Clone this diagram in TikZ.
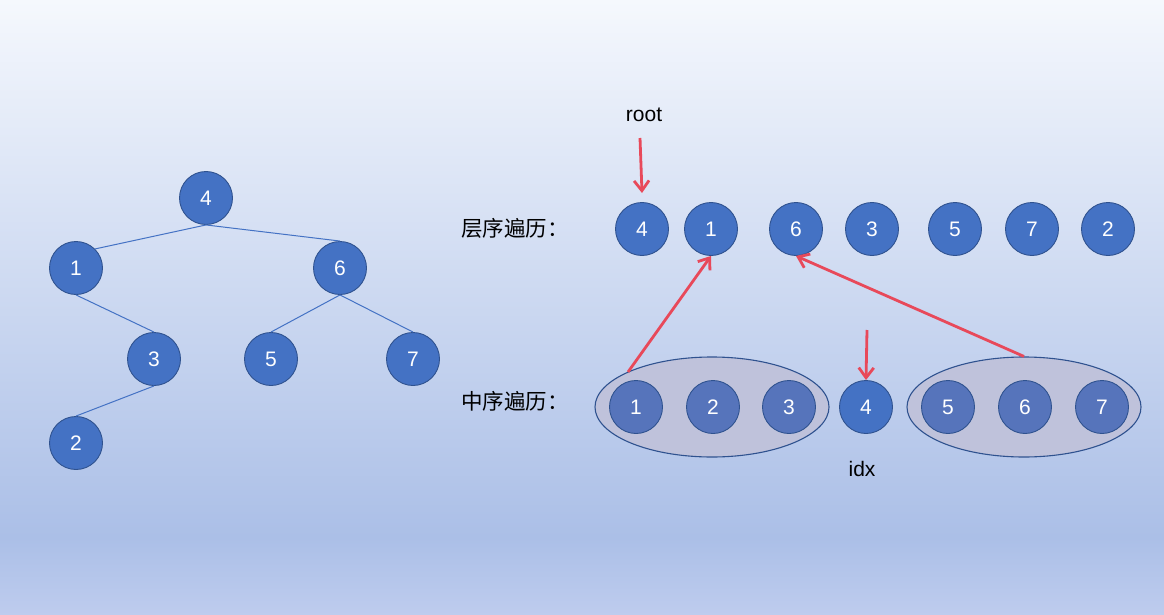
\documentclass[tikz,border=0pt]{standalone}
\usepackage{fontspec}
\setmainfont{Liberation Sans}
\newfontfamily\cjk{Noto Sans CJK SC}
\usetikzlibrary{shapes.geometric,arrows.meta}
\definecolor{bgtop}{HTML}{F5F8FD}
\definecolor{bgmid}{HTML}{ABBFE7}
\definecolor{bgbot}{HTML}{BECCEE}
\definecolor{nodefill}{HTML}{4472C4}
\definecolor{nodeline}{HTML}{2F528F}
\definecolor{grpfill}{HTML}{BFC2DB}
\definecolor{grpnode}{HTML}{5674BB}
\definecolor{arrred}{HTML}{E8495A}
\tikzset{
  x=1pt,y=-1pt,
  bnode/.style={circle,minimum size=53pt,inner sep=0pt,fill=nodefill,draw=nodeline,line width=0.9pt,
    text=white,font=\fontsize{21}{21}\selectfont},
  gnode/.style={bnode,fill=grpnode},
  grp/.style={ellipse,minimum width=234pt,minimum height=100pt,fill=grpfill,draw=nodeline,line width=1.1pt},
  tedge/.style={draw=nodefill,line width=1pt},
  redarrow/.style={draw=arrred,line width=2.8pt,-{Straight Barb[length=10pt,width=15pt,line width=2.8pt]}},
  lbl/.style={font=\fontsize{21}{21}\selectfont,text=black,inner sep=0pt},
  cjklbl/.style={font=\cjk\fontsize{21.5}{21.5}\selectfont,text=black,inner sep=0pt,anchor=west}
}
\begin{document}
\begin{tikzpicture}
\useasboundingbox (0,0) rectangle (1164,615);
\shade[top color=bgtop,bottom color=bgmid] (0,0) rectangle (1164,537);
\shade[top color=bgmid,bottom color=bgbot] (0,537) rectangle (1164,615);

% tree
\node[bnode] (t4) at (206,198) {4};
\node[bnode] (t1) at (76,268) {1};
\node[bnode] (t6) at (340,268) {6};
\node[bnode] (t3) at (154,359) {3};
\node[bnode] (t5) at (271,359) {5};
\node[bnode] (t7) at (413,359) {7};
\node[bnode] (t2) at (76,443) {2};
\draw[tedge] (t4.south) -- (t1.north east);
\draw[tedge] (t4.south) -- (t6.north);
\draw[tedge] (t1.south) -- (t3.north);
\draw[tedge] (t6.south) -- (t5.north);
\draw[tedge] (t6.south) -- (t7.north);
\draw[tedge] (t3.south) -- (t2.north);

% level order
\node[cjklbl] (lvl) at (461,228) {层序遍历：};
\node[bnode] (l4) at (642,229) {4};
\node[bnode] (l1) at (711,229) {1};
\node[bnode] (l6) at (796,229) {6};
\node[bnode] (l3) at (872,229) {3};
\node[bnode] (l5) at (955,229) {5};
\node[bnode] (l7) at (1032,229) {7};
\node[bnode] (l2) at (1108,229) {2};

% in order
\node[cjklbl] (ino) at (461,401) {中序遍历：};
\node[grp] (e1) at (712,407) {};
\node[grp] (e2) at (1024,407) {};
\node[gnode] (i1) at (636,407) {1};
\node[gnode] (i2) at (713,407) {2};
\node[gnode] (i3) at (789,407) {3};
\node[bnode] (i4) at (866,407) {4};
\node[gnode] (i5) at (948,407) {5};
\node[gnode] (i6) at (1025,407) {6};
\node[gnode] (i7) at (1102,407) {7};

% labels
\node[lbl] (root) at (644,115) {root};
\node[lbl] (idx) at (862,469) {idx};

% arrows
\coordinate (rootA) at (640,138);
\coordinate (rootB) at (642,193);
\coordinate (idxA) at (867,330);
\coordinate (e1p) at (628,372);
\draw[redarrow] (rootA) -- (rootB);
\draw[redarrow] (idxA) -- (i4.north);
\draw[redarrow] (e1p) -- (l1.south);
\draw[redarrow] (e2.north) -- (l6.south);
\end{tikzpicture}
\end{document}
